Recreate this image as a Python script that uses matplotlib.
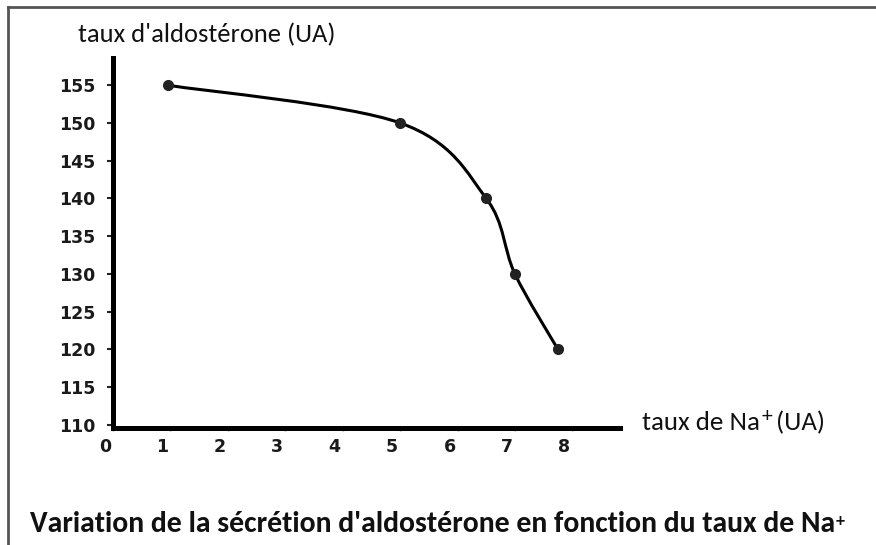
import matplotlib
matplotlib.use("Agg")
import matplotlib.pyplot as plt
import numpy as np
from matplotlib import font_manager
from matplotlib.path import Path
from matplotlib.patches import PathPatch
from matplotlib.transforms import ScaledTranslation
from matplotlib.lines import Line2D

# ---- data ----
na_levels = [0.95, 5.0, 6.5, 7.0, 7.75]
aldosterone = [155, 150, 140, 130, 120]
x_ticks = [0, 1, 2, 3, 4, 5, 6, 7, 8]
y_ticks = [110, 115, 120, 125, 130, 135, 140, 145, 150, 155]
y_label = "taux d'aldostérone (UA)"
x_label_main = "taux de Na"
x_label_sup = "+"
x_label_end = "(UA)"
title_main = "Variation de la sécrétion d'aldostérone en fonction du taux de Na"
title_sup = "+"

W, H, DPI = 876, 545, 100
names = {f.name for f in font_manager.fontManager.ttflist}
def pick(*cands):
    for c in cands:
        if c in names:
            return c
    return "DejaVu Sans"

label_font = pick("Carlito", "Open Sans", "Lato", "Noto Sans")
title_font = pick("Carlito", "Liberation Sans Narrow", "Open Sans", "Lato")

fig = plt.figure(figsize=(W / DPI, H / DPI), dpi=DPI)
fig.patch.set_facecolor("white")

# axes placement (pixels)
ax_l, ax_r, ax_t, ax_b = 113, 620, 58, 428
ax = fig.add_axes([ax_l / W, 1 - ax_b / H, (ax_r - ax_l) / W, (ax_b - ax_t) / H])
ax.set_xlim(0, 8.83)
ax.set_ylim(109.6, 158.6)

for s in ["top", "right"]:
    ax.spines[s].set_visible(False)
for s in ["left", "bottom"]:
    ax.spines[s].set_linewidth(3.6)
    ax.spines[s].set_color("black")
    ax.spines[s].set_capstyle("projecting")

tick_kw = dict(family="DejaVu Sans", fontsize=12.5, fontweight="bold", color="#1a1a1a")
ax.set_xticks(x_ticks)
ax.set_xticklabels([str(v) for v in x_ticks], **tick_kw)
ax.set_yticks(y_ticks)
ax.set_yticklabels([str(v) for v in y_ticks], **tick_kw)
ax.tick_params(axis="y", direction="out", length=4.5, width=1.5, pad=8, color="#222222")
ax.tick_params(axis="x", direction="out", length=2.5, width=1.0, pad=4.5, color="#888888")
for lab in ax.get_xticklabels():
    lab.set_transform(lab.get_transform() + ScaledTranslation(-8 / DPI, 0, fig.dpi_scale_trans))

# smooth curve through points (Catmull-Rom -> cubic Bezier)
pts = np.column_stack([na_levels, aldosterone]).astype(float)
ext = np.vstack([pts[0], pts, pts[-1]])
verts = [tuple(pts[0])]
codes = [Path.MOVETO]
for i in range(1, len(ext) - 2):
    p0, p1, p2, p3 = ext[i - 1], ext[i], ext[i + 1], ext[i + 2]
    c1 = p1 + (p2 - p0) / 6.0
    c2 = p2 - (p3 - p1) / 6.0
    verts += [tuple(c1), tuple(c2), tuple(p2)]
    codes += [Path.CURVE4] * 3
ax.add_patch(PathPatch(Path(verts, codes), facecolor="none", edgecolor="black",
                       linewidth=2.2, capstyle="round", joinstyle="round"))
ax.plot(na_levels, aldosterone, linestyle="none", marker="o", markersize=7,
        color="#222222", zorder=5)

renderer = fig.canvas.get_renderer()

def fit_text(x_px, y_px, s, target_w, size=14, **kw):
    t = fig.text(x_px / W, 1 - y_px / H, s, ha="left", va="baseline", fontsize=size, **kw)
    bb = t.get_window_extent(renderer)
    t.set_fontsize(size * target_w / bb.width)
    return t

def right_px(t):
    return t.get_window_extent(renderer).x1

# y label
fit_text(78, 42, y_label, 258, family=label_font, color="#111111")

# x label
t1 = fit_text(642, 430, x_label_main, 118, family=label_font, color="#111111")
fs = t1.get_fontsize()
xr = right_px(t1)
tp = fig.text((xr + 2) / W, 1 - 422 / H, x_label_sup, ha="left", va="baseline",
              fontsize=fs * 0.8, family=label_font, color="#111111")
xr2 = right_px(tp)
fig.text((xr2 + 3) / W, 1 - 430 / H, x_label_end, ha="left", va="baseline",
         fontsize=fs, family=label_font, color="#111111")

# bottom title
tt = fit_text(30, 532, title_main, 810, family=title_font, weight="bold", color="#111111")
xr = right_px(tt)
fig.text((xr + 1) / W, 1 - 526 / H, title_sup, ha="left", va="baseline",
         fontsize=tt.get_fontsize() * 0.6, family=title_font, weight="bold", color="#111111")

# image frame (top and left edges)
fig.add_artist(Line2D([8 / W, 1.0], [1 - 7 / H, 1 - 7 / H], color="#555555", linewidth=2.0,
                      transform=fig.transFigure))
fig.add_artist(Line2D([8 / W, 8 / W], [0.0, 1 - 7 / H], color="#555555", linewidth=2.0,
                      transform=fig.transFigure))

fig.savefig("out.png", dpi=DPI, facecolor="white")
